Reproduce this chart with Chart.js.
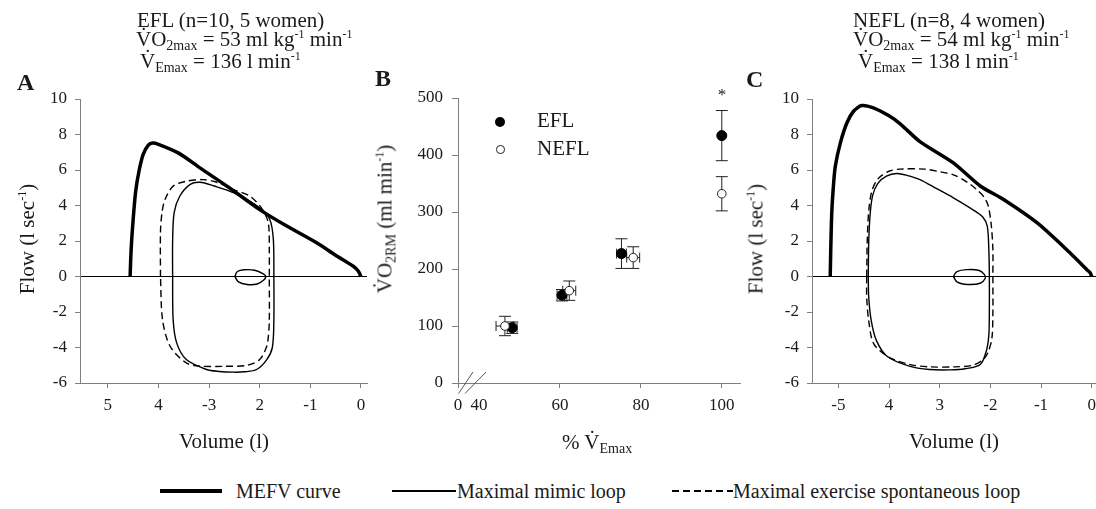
<!DOCTYPE html>
<html><head><meta charset="utf-8">
<script src="https://cdn.jsdelivr.net/npm/chart.js@4.4.1/dist/chart.umd.min.js"></script>
<style>
html,body{margin:0;padding:0;background:#fff;}
body{width:1096px;height:509px;position:relative;overflow:hidden;font-family:'Liberation Serif','Times New Roman',serif;color:#1a1a1a;}
canvas{position:absolute;top:0;}
.t{position:absolute;white-space:nowrap;line-height:1;}
.t sub{font-size:14px;vertical-align:-4px;line-height:0;}
.t sup{font-size:12px;vertical-align:8px;line-height:0;}
.rot{transform:translate(-50%,-50%) rotate(-90deg);}
.ctr{transform:translateX(-50%);}
.bold{font-weight:bold;}
.dot{position:absolute;border-radius:50%;box-sizing:border-box;}
.ln{position:absolute;}
</style></head><body>
<canvas id="cA" width="380" height="440" style="left:0px"></canvas>
<canvas id="cB" width="370" height="440" style="left:380px"></canvas>
<canvas id="cC" width="380" height="440" style="left:730px"></canvas>

<!-- panel A texts -->
<div class="t" style="left:137px;top:10px;font-size:21px">EFL (n=10, 5 women)</div>
<div class="t" style="left:136px;top:29px;font-size:21px">V&#x307;O<sub>2max</sub> = 53 ml kg<sup>-1</sup> min<sup>-1</sup></div>
<div class="t" style="left:140px;top:51px;font-size:21px">V&#x307;<sub>Emax</sub> = 136 l min<sup>-1</sup></div>
<div class="t bold" style="left:17px;top:70px;font-size:24px">A</div>
<div class="t rot" style="left:27px;top:239px;font-size:21px">Flow (l sec<sup>-1</sup>)</div>
<div class="t ctr" style="left:224px;top:431px;font-size:21px">Volume (l)</div>

<!-- panel B texts -->
<div class="t bold" style="left:375px;top:66px;font-size:24px">B</div>
<div class="t rot" style="left:385px;top:219px;font-size:21px">V&#x307;O<sub>2RM</sub> (ml min<sup>-1</sup>)</div>
<div class="t" style="left:562px;top:432px;font-size:21px">% V&#x307;<sub>Emax</sub></div>
<div class="dot" style="left:495px;top:116.5px;width:10px;height:10px;background:#000"></div>
<div class="dot" style="left:496px;top:145px;width:8.5px;height:8.5px;border:1px solid #222;background:#fff"></div>
<div class="t" style="left:537px;top:110px;font-size:21px">EFL</div>
<div class="t" style="left:537px;top:138px;font-size:21px">NEFL</div>
<div class="t ctr" style="left:722px;top:86px;font-size:17px">*</div>

<!-- panel C texts -->
<div class="t" style="left:853px;top:10px;font-size:21px">NEFL (n=8, 4 women)</div>
<div class="t" style="left:853px;top:29px;font-size:21px">V&#x307;O<sub>2max</sub> = 54 ml kg<sup>-1</sup> min<sup>-1</sup></div>
<div class="t" style="left:858px;top:51px;font-size:21px">V&#x307;<sub>Emax</sub> = 138 l min<sup>-1</sup></div>
<div class="t bold" style="left:746px;top:67px;font-size:24px">C</div>
<div class="t rot" style="left:756px;top:239px;font-size:21px">Flow (l sec<sup>-1</sup>)</div>
<div class="t ctr" style="left:954px;top:431px;font-size:21px">Volume (l)</div>

<!-- shared legend -->
<div class="ln" style="left:160px;top:489px;width:62px;height:4px;background:#000"></div>
<div class="t" style="left:236px;top:481px;font-size:20px">MEFV curve</div>
<div class="ln" style="left:392px;top:490px;width:64px;height:1.5px;background:#000"></div>
<div class="t" style="left:457px;top:481px;font-size:20px">Maximal mimic loop</div>
<div class="ln" style="left:672px;top:490px;width:61px;height:1.5px;background:repeating-linear-gradient(90deg,#000 0 7px,transparent 7px 11px)"></div>
<div class="t" style="left:733px;top:481px;font-size:20px">Maximal exercise spontaneous loop</div>

<script>
// ---------- data ----------
const xTicksVol = [-5, -4, -3, -2, -1, 0];
const xTickLabelsA = ['5', '4', '-3', '2', '-1', '0'];
const xTickLabelsC = ['-5', '4', '3', '-2', '-1', '0'];
const yTicksFlow = [-6, -4, -2, 0, 2, 4, 6, 8, 10];

// Panel A (EFL) : [volume, flow]
const mefvA = [[-4.56,0],[-4.54,1.5],[-4.5,3.2],[-4.45,4.8],[-4.38,6.0],[-4.3,6.9],[-4.2,7.4],[-4.12,7.52],[-4.0,7.45],
  [-3.6,6.95],[-3.18,6.12],[-2.6,5.0],[-2.0,3.77],[-1.5,2.9],[-0.875,1.9],[-0.5,1.2],[-0.15,0.58],[-0.05,0.3],[0,0]];
const mimicA = [[-3.72,0],[-3.72,2],[-3.69,3.6],[-3.58,4.52],[-3.38,5.18],[-3.18,5.31],[-2.9,5.1],[-2.52,4.72],[-2.0,3.87],
  [-1.80,3.21],[-1.73,2.08],[-1.72,0],[-1.72,-2.5],[-1.75,-4.0],[-1.86,-4.68],[-2.06,-5.24],[-2.3,-5.37],[-2.52,-5.39],
  [-2.8,-5.35],[-3.05,-5.24],[-3.45,-4.68],[-3.64,-3.74],[-3.71,-2.42],[-3.72,0]];
const spontA = [[-3.96,0],[-3.96,2.5],[-3.93,3.6],[-3.87,4.34],[-3.71,5.09],[-3.45,5.37],[-3.12,5.46],[-2.85,5.31],[-2.52,4.9],
  [-2.19,4.52],[-1.95,3.8],[-1.83,3.02],[-1.81,1.5],[-1.81,0],[-1.81,-2.5],[-1.83,-3.4],[-1.86,-3.93],[-2.0,-4.68],
  [-2.26,-5.01],[-2.7,-5.06],[-3.18,-5.05],[-3.45,-4.87],[-3.77,-3.93],[-3.92,-2.42],[-3.96,0]];
const tidalA = [[-2.49,0],[-2.44,0.28],[-2.3,0.38],[-2.1,0.35],[-1.93,0.15],[-1.88,0],[-1.92,-0.2],[-2.05,-0.42],
  [-2.25,-0.45],[-2.42,-0.3],[-2.49,0]];

// Panel C (NEFL)
const mefvC = [[-5.16,0],[-5.15,1.5],[-5.13,3.59],[-5.1,5.0],[-5.06,6.21],[-4.96,7.53],[-4.83,8.66],[-4.70,9.31],[-4.54,9.63],
  [-4.31,9.5],[-4.0,9.05],[-3.78,8.6],[-3.39,7.6],[-2.73,6.4],[-2.20,5.1],[-1.74,4.34],[-1.08,3.03],[-0.43,1.34],
  [-0.1,0.4],[-0.03,0.21],[0,0]];
const mimicC = [[-4.41,0],[-4.40,2],[-4.37,3.6],[-4.32,4.6],[-4.22,5.25],[-4.05,5.65],[-3.85,5.8],[-3.65,5.7],[-3.39,5.46],
  [-3.06,4.95],[-2.73,4.43],[-2.35,3.77],[-2.15,3.35],[-2.06,2.83],[-2.03,1.5],[-2.02,0],[-2.02,-2],[-2.03,-3.3],
  [-2.08,-4.2],[-2.2,-4.96],[-2.5,-5.2],[-2.8,-5.26],[-3.2,-5.24],[-3.6,-5.05],[-4.04,-4.49],[-4.25,-3.6],[-4.35,-2.5],
  [-4.4,-1.2],[-4.41,0]];
const spontC = [[-4.44,0],[-4.43,2],[-4.40,3.7],[-4.34,4.8],[-4.22,5.5],[-4.0,5.93],[-3.78,6.05],[-3.3,6.05],[-3.0,5.9],
  [-2.73,5.73],[-2.45,5.3],[-2.27,4.9],[-2.12,4.45],[-2.04,3.96],[-1.98,2.83],[-1.95,1.5],[-1.95,0],[-1.95,-2],
  [-1.97,-3.5],[-2.05,-4.3],[-2.14,-4.68],[-2.35,-5.0],[-2.7,-5.09],[-3.2,-5.09],[-3.6,-4.95],[-4.0,-4.55],[-4.3,-3.8],
  [-4.4,-2.5],[-4.44,-1.2],[-4.44,0]];
const tidalC = [[-2.73,0],[-2.66,0.28],[-2.45,0.39],[-2.22,0.34],[-2.12,0.12],[-2.10,-0.1],[-2.2,-0.38],[-2.45,-0.45],
  [-2.65,-0.32],[-2.73,0]];

// Panel B
const xTicksB = [34.8, 40, 60, 80, 100];
const xTickLabelsB = ['0', '40', '60', '80', '100'];
const yTicksB = [0, 100, 200, 300, 400, 500];
const pctVE_EFL = [48.2, 60.5, 75.2, 100];
const vo2_EFL = [97, 154, 227, 434];
const pctErr_EFL = [1.2, 1.2, 1.2, 0];
const vo2Err_EFL = [10, 10, 26, 44];
const pctVE_NEFL = [46.4, 62.3, 78.1, 100];
const vo2_NEFL = [100, 162, 220, 332];
const pctErr_NEFL = [2.2, 1.6, 1.6, 0];
const vo2Err_NEFL = [17, 17, 19, 30];

// ---------- helpers ----------
const FONT = "'Liberation Serif','Times New Roman',serif";
const AXIS_GRAY = '#7f7f7f';
const TXT = '#1a1a1a';
function pts(arr){ return arr.map(p => ({x: p[0], y: p[1]})); }

function loopChart(id, mefv, mimic, spont, tidal, xMin, xMax, xLabels, yW, padR){
  return new Chart(document.getElementById(id), {
    type: 'scatter',
    data: {datasets: [
      {label: 'MEFV curve', data: pts(mefv), showLine: true, borderColor: '#000', borderWidth: 3.5, pointRadius: 0, tension: 0.25},
      {label: 'Maximal mimic loop', data: pts(mimic), showLine: true, borderColor: '#000', borderWidth: 1.4, pointRadius: 0, tension: 0.3},
      {label: 'Maximal exercise spontaneous loop', data: pts(spont), showLine: true, borderColor: '#000', borderWidth: 1.4, borderDash: [7, 4], pointRadius: 0, tension: 0.3},
      {label: 'Tidal loop', data: pts(tidal), showLine: true, borderColor: '#000', borderWidth: 1.4, pointRadius: 0, tension: 0.4}
    ]},
    options: {
      responsive: false, animation: false, events: [], devicePixelRatio: 1,
      layout: {padding: {top: 99, right: padR, left: 0, bottom: 0}},
      plugins: {legend: {display: false}, tooltip: {enabled: false}},
      scales: {
        x: {type: 'linear', min: xMin, max: xMax,
          afterBuildTicks: s => { s.ticks = xTicksVol.map(v => ({value: v})); },
          afterFit: s => { s.height = 57; },
          border: {color: AXIS_GRAY, width: 1},
          grid: {drawOnChartArea: false, tickLength: 5, tickColor: AXIS_GRAY},
          ticks: {autoSkip: false, maxRotation: 0, callback: (v, i) => xLabels[i], color: TXT, font: {family: FONT, size: 17}, padding: 7}
        },
        y: {type: 'linear', min: -6, max: 10,
          afterBuildTicks: s => { s.ticks = yTicksFlow.map(v => ({value: v})); },
          afterFit: s => { s.width = yW; },
          border: {color: AXIS_GRAY, width: 1},
          grid: {drawOnChartArea: true, color: c => (c.tick && c.tick.value === 0) ? '#000' : 'rgba(0,0,0,0)', lineWidth: 1, tickLength: 5, tickColor: AXIS_GRAY},
          ticks: {autoSkip: false, color: TXT, font: {family: FONT, size: 17}, padding: 8}
        }
      }
    }
  });
}

loopChart('cA', mefvA, mimicA, spontA, tidalA, -5.55, 0.12, xTickLabelsA, 80, 13);
loopChart('cC', mefvC, mimicC, spontC, tidalC, -5.52, 0.085, xTickLabelsC, 82, 14);

const errorBars = {
  id: 'errorBars',
  beforeDatasetsDraw(chart){
    const {ctx} = chart; const xs = chart.scales.x, ys = chart.scales.y;
    const groups = [
      {x: pctVE_EFL, y: vo2_EFL, ex: pctErr_EFL, ey: vo2Err_EFL},
      {x: pctVE_NEFL, y: vo2_NEFL, ex: pctErr_NEFL, ey: vo2Err_NEFL}
    ];
    ctx.save(); ctx.strokeStyle = '#222'; ctx.lineWidth = 1;
    groups.forEach(g => {
      g.x.forEach((xv, i) => {
        const px = xs.getPixelForValue(xv), py = ys.getPixelForValue(g.y[i]);
        if (g.ey[i] > 0){
          const t = ys.getPixelForValue(g.y[i] + g.ey[i]), b = ys.getPixelForValue(g.y[i] - g.ey[i]);
          ctx.beginPath();
          ctx.moveTo(px, t); ctx.lineTo(px, b);
          ctx.moveTo(px - 6, t); ctx.lineTo(px + 6, t);
          ctx.moveTo(px - 6, b); ctx.lineTo(px + 6, b);
          ctx.stroke();
        }
        if (g.ex[i] > 0){
          const l = xs.getPixelForValue(xv - g.ex[i]), r = xs.getPixelForValue(xv + g.ex[i]);
          ctx.beginPath();
          ctx.moveTo(l, py); ctx.lineTo(r, py);
          ctx.moveTo(l, py - 5); ctx.lineTo(l, py + 5);
          ctx.moveTo(r, py - 5); ctx.lineTo(r, py + 5);
          ctx.stroke();
        }
      });
    });
    ctx.restore();
  }
};
const axisBreak = {
  id: 'axisBreak',
  afterDraw(chart){
    const {ctx} = chart; const x0 = chart.scales.x.left, y0 = chart.scales.y.bottom;
    ctx.save(); ctx.strokeStyle = '#555'; ctx.lineWidth = 1;
    ctx.beginPath();
    ctx.moveTo(x0 + 0.5, y0 + 10.5); ctx.lineTo(x0 + 15, y0 - 11);
    ctx.moveTo(x0 + 7, y0 + 10.5); ctx.lineTo(x0 + 28, y0 - 11);
    ctx.stroke(); ctx.restore();
  }
};

new Chart(document.getElementById('cB'), {
  type: 'scatter',
  data: {datasets: [
    {label: 'EFL', data: pctVE_EFL.map((x, i) => ({x, y: vo2_EFL[i]})), pointRadius: 5, pointBackgroundColor: '#000', pointBorderColor: '#000', pointBorderWidth: 1, order: 1},
    {label: 'NEFL', data: pctVE_NEFL.map((x, i) => ({x, y: vo2_NEFL[i]})), pointRadius: 4.3, pointBackgroundColor: '#fff', pointBorderColor: '#222', pointBorderWidth: 1, order: 0}
  ]},
  options: {
    responsive: false, animation: false, events: [], devicePixelRatio: 1,
    layout: {padding: {top: 98, right: 10, left: 0, bottom: 0}},
    plugins: {legend: {display: false}, tooltip: {enabled: false}},
    scales: {
      x: {type: 'linear', min: 34.8, max: 104.5,
        afterBuildTicks: s => { s.ticks = xTicksB.map(v => ({value: v})); },
        afterFit: s => { s.height = 57; },
        border: {color: AXIS_GRAY, width: 1},
        grid: {drawOnChartArea: false, tickLength: 5, tickColor: c => c.index === 1 ? 'rgba(0,0,0,0)' : AXIS_GRAY},
        ticks: {autoSkip: false, maxRotation: 0, callback: (v, i) => xTickLabelsB[i], color: TXT, font: {family: FONT, size: 17}, padding: 7}
      },
      y: {type: 'linear', min: 0, max: 500,
        afterBuildTicks: s => { s.ticks = yTicksB.map(v => ({value: v})); },
        afterFit: s => { s.width = 78; },
        border: {color: AXIS_GRAY, width: 1},
        grid: {drawOnChartArea: false, tickLength: 6, tickColor: AXIS_GRAY},
        ticks: {autoSkip: false, color: TXT, font: {family: FONT, size: 17}, padding: 9}
      }
    }
  },
  plugins: [errorBars, axisBreak]
});
</script>
</body></html>
